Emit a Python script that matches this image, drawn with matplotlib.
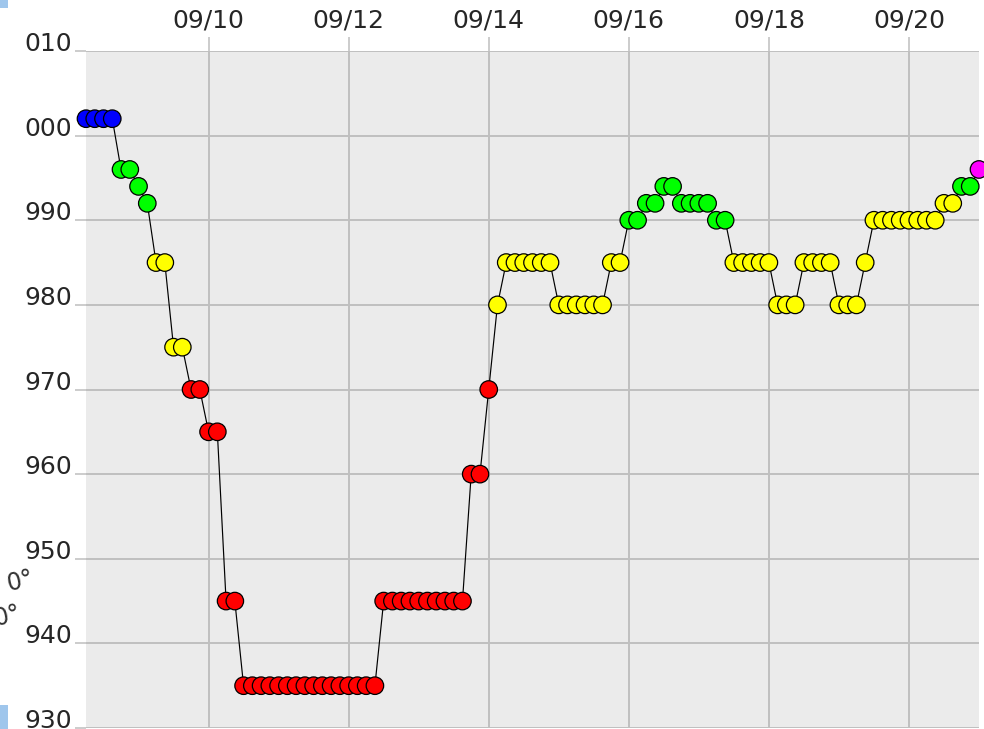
import matplotlib
matplotlib.use("Agg")
import matplotlib.pyplot as plt
import matplotlib.dates as mdates
from matplotlib.patches import Rectangle
import pandas as pd

# ---- data ----
times = [
    "2013-09-08 06:00", "2013-09-08 09:00", "2013-09-08 12:00", "2013-09-08 15:00",
    "2013-09-08 18:00", "2013-09-08 21:00",
    "2013-09-09 00:00", "2013-09-09 03:00", "2013-09-09 06:00", "2013-09-09 09:00",
    "2013-09-09 12:00", "2013-09-09 15:00", "2013-09-09 18:00", "2013-09-09 21:00",
    "2013-09-10 00:00", "2013-09-10 03:00", "2013-09-10 06:00", "2013-09-10 09:00",
    "2013-09-10 12:00", "2013-09-10 15:00", "2013-09-10 18:00", "2013-09-10 21:00",
    "2013-09-11 00:00", "2013-09-11 03:00", "2013-09-11 06:00", "2013-09-11 09:00",
    "2013-09-11 12:00", "2013-09-11 15:00", "2013-09-11 18:00", "2013-09-11 21:00",
    "2013-09-12 00:00", "2013-09-12 03:00", "2013-09-12 06:00", "2013-09-12 09:00",
    "2013-09-12 12:00", "2013-09-12 15:00", "2013-09-12 18:00", "2013-09-12 21:00",
    "2013-09-13 00:00", "2013-09-13 03:00", "2013-09-13 06:00", "2013-09-13 09:00",
    "2013-09-13 12:00", "2013-09-13 15:00", "2013-09-13 18:00", "2013-09-13 21:00",
    "2013-09-14 00:00", "2013-09-14 03:00", "2013-09-14 06:00", "2013-09-14 09:00",
    "2013-09-14 12:00", "2013-09-14 15:00", "2013-09-14 18:00", "2013-09-14 21:00",
    "2013-09-15 00:00", "2013-09-15 03:00", "2013-09-15 06:00", "2013-09-15 09:00",
    "2013-09-15 12:00", "2013-09-15 15:00", "2013-09-15 18:00", "2013-09-15 21:00",
    "2013-09-16 00:00", "2013-09-16 03:00", "2013-09-16 06:00", "2013-09-16 09:00",
    "2013-09-16 12:00", "2013-09-16 15:00", "2013-09-16 18:00", "2013-09-16 21:00",
    "2013-09-17 00:00", "2013-09-17 03:00", "2013-09-17 06:00", "2013-09-17 09:00",
    "2013-09-17 12:00", "2013-09-17 15:00", "2013-09-17 18:00", "2013-09-17 21:00",
    "2013-09-18 00:00", "2013-09-18 03:00", "2013-09-18 06:00", "2013-09-18 09:00",
    "2013-09-18 12:00", "2013-09-18 15:00", "2013-09-18 18:00", "2013-09-18 21:00",
    "2013-09-19 00:00", "2013-09-19 03:00", "2013-09-19 06:00", "2013-09-19 09:00",
    "2013-09-19 12:00", "2013-09-19 15:00", "2013-09-19 18:00", "2013-09-19 21:00",
    "2013-09-20 00:00", "2013-09-20 03:00", "2013-09-20 06:00", "2013-09-20 09:00",
    "2013-09-20 12:00", "2013-09-20 15:00", "2013-09-20 18:00", "2013-09-20 21:00",
    "2013-09-21 00:00",
]

pressure = [
    1002, 1002, 1002, 1002, 996, 996,
    994, 992, 985, 985, 975, 975, 970, 970,
    965, 965, 945, 945, 935, 935, 935, 935,
    935, 935, 935, 935, 935, 935, 935, 935,
    935, 935, 935, 935, 945, 945, 945, 945,
    945, 945, 945, 945, 945, 945, 960, 960,
    970, 980, 985, 985, 985, 985, 985, 985,
    980, 980, 980, 980, 980, 980, 985, 985,
    990, 990, 992, 992, 994, 994, 992, 992,
    992, 992, 990, 990, 985, 985, 985, 985,
    985, 980, 980, 980, 985, 985, 985, 985,
    980, 980, 980, 985, 990, 990, 990, 990,
    990, 990, 990, 990, 992, 992, 994, 994,
    996,
]

category = [
    "TD", "TD", "TD", "TD", "TS", "TS",
    "TS", "TS", "STS", "STS", "STS", "STS", "TY", "TY",
    "TY", "TY", "TY", "TY", "TY", "TY", "TY", "TY",
    "TY", "TY", "TY", "TY", "TY", "TY", "TY", "TY",
    "TY", "TY", "TY", "TY", "TY", "TY", "TY", "TY",
    "TY", "TY", "TY", "TY", "TY", "TY", "TY", "TY",
    "TY", "STS", "STS", "STS", "STS", "STS", "STS", "STS",
    "STS", "STS", "STS", "STS", "STS", "STS", "STS", "STS",
    "TS", "TS", "TS", "TS", "TS", "TS", "TS", "TS",
    "TS", "TS", "TS", "TS", "STS", "STS", "STS", "STS",
    "STS", "STS", "STS", "STS", "STS", "STS", "STS", "STS",
    "STS", "STS", "STS", "STS", "STS", "STS", "STS", "STS",
    "STS", "STS", "STS", "STS", "STS", "STS", "TS", "TS",
    "L",
]

category_colors = {"TD": "#0000ff", "TS": "#00ff00", "STS": "#ffff00",
                   "TY": "#ff0000", "L": "#ff00ff"}

x_ticks = ["2013-09-10", "2013-09-12", "2013-09-14", "2013-09-16",
           "2013-09-18", "2013-09-20"]
y_ticks = [930, 940, 950, 960, 970, 980, 990, 1000, 1010]
y_tick_labels = ["930", "940", "950", "960", "970", "980", "990", "000", "010"]
x_range = ["2013-09-08 06:00", "2013-09-21 00:00"]
y_range = [930, 1010]

# ---- plot ----
W, H = 984, 729
fig = plt.figure(figsize=(W / 100, H / 100), dpi=100)
ax = fig.add_axes([86 / W, 1 - 728 / H, (979 - 86) / W, (728 - 51) / H])
ax.set_facecolor("#ebebeb")
for s in ax.spines.values():
    s.set_visible(False)

t = pd.to_datetime(times)
cols = [category_colors[c] for c in category]
ax.plot(t, pressure, color="black", lw=0.85, zorder=2)
ax.scatter(t, pressure, s=12.6 ** 2, c=cols, edgecolors="black",
           linewidths=0.9, zorder=3, clip_on=False)

ax.set_xlim(pd.to_datetime(x_range[0]), pd.to_datetime(x_range[1]))
ax.set_ylim(*y_range)
ax.set_xticks(pd.to_datetime(x_ticks))
ax.xaxis.set_major_formatter(mdates.DateFormatter("%m/%d"))
ax.set_yticks(y_ticks)
ax.set_yticklabels(y_tick_labels)

ax.grid(True, color="#bfbfbf", lw=1.4)
ax.set_axisbelow(True)
ax.xaxis.tick_top()
ax.tick_params(axis="x", top=True, bottom=False, labeltop=True, labelbottom=False,
               length=10, width=1.1, color="#bfbfbf", pad=3,
               labelsize=18, labelcolor="#262626")
ax.tick_params(axis="y", length=8, width=1.1, color="#bfbfbf", pad=2,
               labelsize=18, labelcolor="#262626")
for tk in ax.yaxis.get_major_ticks():
    tk.label1.set_verticalalignment("baseline")

# fragments of neighbouring imagery at the left edge
fig.text(5 / W, 1 - 591 / H, "0°", fontsize=17, color="#333333", rotation=12)
fig.text(-8 / W, 1 - 626 / H, "0°", fontsize=17, color="#333333", rotation=12)
fig.patches.append(Rectangle((0, 1 - 8 / H), 8 / W, 8 / H, transform=fig.transFigure,
                             facecolor="#9fc6ec", edgecolor="none"))
fig.patches.append(Rectangle((0, 0), 8 / W, 24 / H, transform=fig.transFigure,
                             facecolor="#9fc6ec", edgecolor="none"))

fig.savefig("out.png", dpi=100)
